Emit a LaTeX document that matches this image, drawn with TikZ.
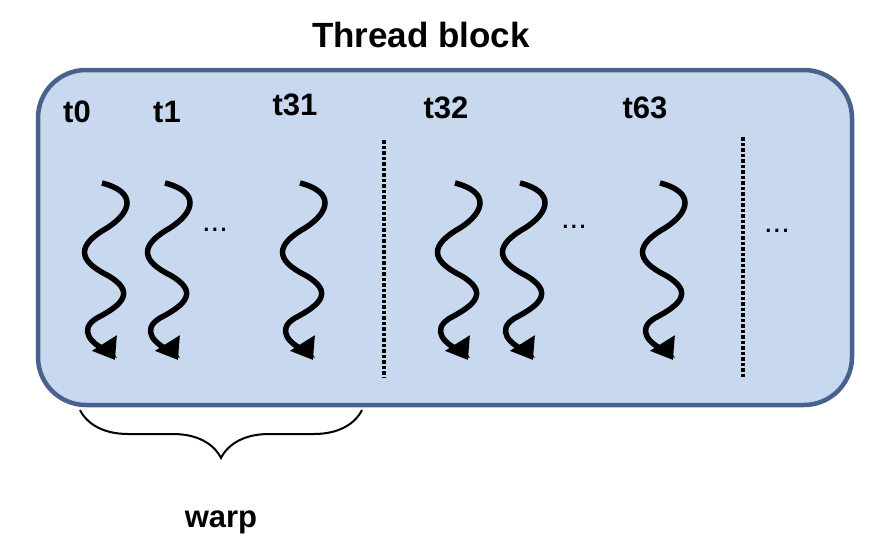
\documentclass[tikz,border=0pt]{standalone}
\usepackage{fontspec}
\setmainfont{Liberation Sans}
\usetikzlibrary{arrows.meta,decorations.pathreplacing}
\definecolor{bfill}{RGB}{200,216,238}
\definecolor{bdraw}{RGB}{72,98,142}
\begin{document}
\begin{tikzpicture}[x=1pt,y=-1pt,
  lbl/.style={font=\bfseries\fontsize{31}{34}\selectfont,inner sep=0},
  dots/.style={font=\fontsize{31}{34}\selectfont,inner sep=0},
  thr/.style={line width=5.5pt,-{Triangle[width=28pt,length=20pt]}}]
\useasboundingbox (0,0) rectangle (884,552);
\node[lbl,font=\bfseries\fontsize{35}{38}\selectfont] (title) at (421,35) {Thread block};
\draw[line width=4.5pt,draw=bdraw,fill=bfill,rounded corners=48pt] (38,70) rectangle (852,405);
\foreach \x in {102,165,300,455,520,660}{
  \draw[thr] (\x,183) .. controls (\x+35,192) and (\x+30,212) .. (\x+5,228)
    .. controls (\x-25,245) and (\x-25,260) .. (\x+5,275)
    .. controls (\x+35,292) and (\x+20,305) .. (\x-5,318)
    .. controls (\x-25,330) and (\x-10,345) .. (\x+8,352) -- (\x+13,360);
}
\node[lbl] (t0) at (77,112) {t0};
\node[lbl] (t1) at (167,112) {t1};
\node[lbl] (t31) at (295,105) {t31};
\node[lbl] (t32) at (446,108) {t32};
\node[lbl] (t63) at (645,108) {t63};
\node[dots] (d1) at (215,230) {...};
\node[dots] (d2) at (574,227) {...};
\node[dots] (d3) at (777,231) {...};
\draw[line width=3.5pt,dotted] (384,140) -- (384,378);
\draw[line width=3.5pt,dotted] (743,137) -- (743,378);
\draw[line width=2pt,decorate,decoration={brace,mirror,amplitude=48pt,aspect=0.5}] (80,410) -- (362,410);
\node[lbl] (warp) at (221,522) {warp};
\end{tikzpicture}
\end{document}
